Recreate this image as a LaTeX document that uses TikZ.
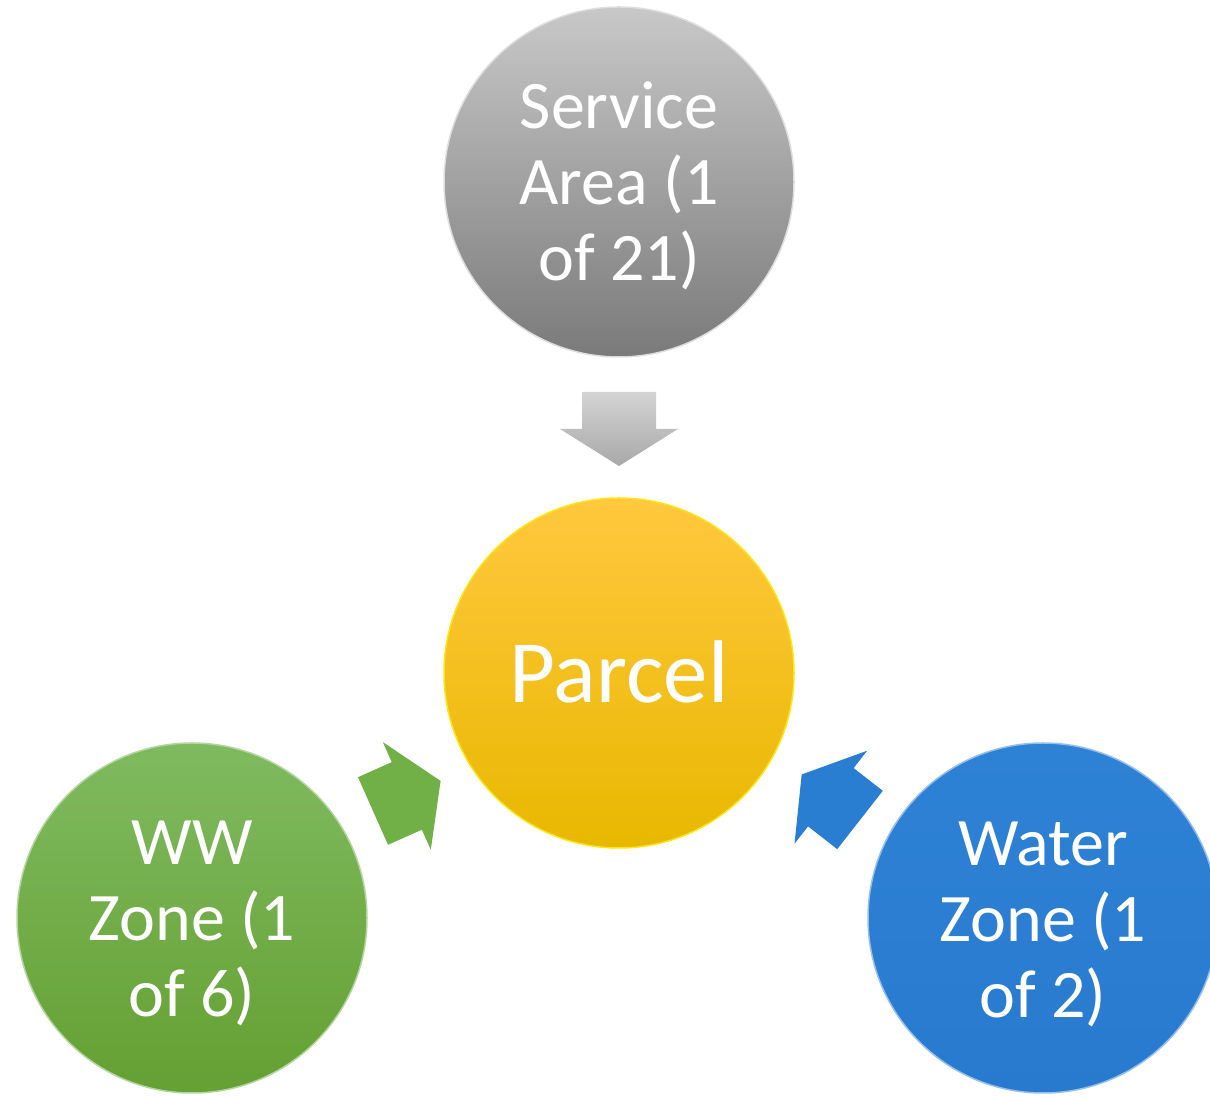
\documentclass[tikz,border=0pt]{standalone}
\usepackage{fontspec}
\setmainfont{Carlito}
\begin{document}
\begin{tikzpicture}[x=1pt,y=1pt,
  bubble/.style={circle, minimum size=350pt, inner sep=0pt, line width=1.5pt},
  bubbletext/.style={inner sep=0pt, align=center, text=white,
    font=\fontsize{68}{76}\selectfont},
  blockarrow/.style={line width=0.8pt}
]
\useasboundingbox (0,0) rectangle (1210,1095);
\definecolor{grayTop}{RGB}{200,200,200}
\definecolor{grayMid}{RGB}{165,165,165}
\definecolor{grayBot}{RGB}{122,122,122}
\definecolor{yelTop}{RGB}{255,200,62}
\definecolor{yelMid}{RGB}{255,197,0}
\definecolor{yelBot}{RGB}{232,184,0}
\definecolor{grnTop}{RGB}{128,186,96}
\definecolor{grnMid}{RGB}{112,173,71}
\definecolor{grnBot}{RGB}{100,160,50}
\definecolor{bluTop}{RGB}{46,130,214}
\definecolor{bluBot}{RGB}{40,122,206}
\definecolor{arrGrayTop}{RGB}{212,212,212}
\definecolor{arrGrayBot}{RGB}{168,168,168}
\definecolor{arrGrn}{RGB}{112,176,70}
\definecolor{arrBlu}{RGB}{42,126,210}

\node[bubble, top color=grayTop, middle color=grayMid, bottom color=grayBot, draw=grayTop!60!white] (service) at (619,913) {};
\node[bubble, top color=yelTop, middle color=yelMid, bottom color=yelBot, draw=yellow!70!yelTop] (parcel) at (619,422) {};
\node[bubble, top color=grnTop, middle color=grnMid, bottom color=grnBot, draw=grnTop!60!white] (ww) at (192,177) {};
\node[bubble, top color=bluTop, bottom color=bluBot, draw=bluTop!50!white] (water) at (1043,177) {};

\node[bubbletext] (servicetext) at ([yshift=-4pt]service.center) {Service\\Area (1\\of 21)};
\node[bubbletext, font=\fontsize{89}{96}\selectfont] (parceltext) at ([yshift=1pt]parcel.center) {Parcel};
\node[bubbletext] (wwtext) at ([yshift=-5pt]ww.center) {WW\\Zone (1\\of 6)};
\node[bubbletext] (watertext) at ([yshift=-6pt]water.center) {Water\\Zone (1\\of 2)};

% block arrows
\coordinate (gtail) at (619,703);
\coordinate (wwtail) at (373,284);
\coordinate (wtail) at (860,275);
\begin{scope}[shift={(gtail)}, rotate=-90]
  \shade[blockarrow, left color=arrGrayTop, right color=arrGrayBot, shading angle=0]
    (0,-37) -- (37,-37) -- (37,-59) -- (74,0) -- (37,59) -- (37,37) -- (0,37) -- cycle;
\end{scope}
\begin{scope}[shift={(wwtail)}, rotate=24]
  \fill[blockarrow, arrGrn]
    (0,-37) -- (37,-37) -- (37,-59) -- (74,0) -- (37,59) -- (37,37) -- (0,37) -- cycle;
\end{scope}
\begin{scope}[shift={(wtail)}, rotate=142]
  \fill[blockarrow, arrBlu]
    (0,-37) -- (37,-37) -- (37,-59) -- (74,0) -- (37,59) -- (37,37) -- (0,37) -- cycle;
\end{scope}
\end{tikzpicture}
\end{document}
